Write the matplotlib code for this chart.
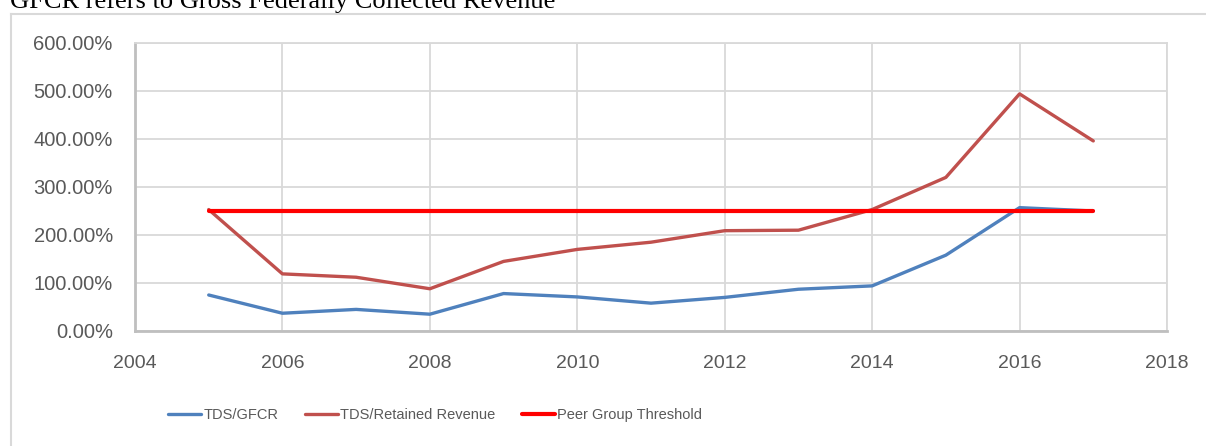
"""
Debt service ratios vs peer group threshold, 2005-2017.
"""

import matplotlib
matplotlib.use("Agg")
import matplotlib.pyplot as plt
from matplotlib.lines import Line2D
from matplotlib.ticker import FuncFormatter


years = [2005, 2006, 2007, 2008, 2009, 2010, 2011, 2012, 2013, 2014, 2015, 2016, 2017]
tds_gfcr = [75, 37, 45, 35, 78, 71, 58, 70, 87, 94, 158, 257, 250]
tds_retained = [253, 119, 112, 88, 145, 170, 185, 209, 210, 253, 320, 494, 396]
threshold = [250] * len(years)

x_ticks = [2004, 2006, 2008, 2010, 2012, 2014, 2016, 2018]
y_ticks = [0, 100, 200, 300, 400, 500, 600]

BLUE = "#4f81bd"
BROWN = "#c0504d"
RED = "#ff0000"
GRID = "#d9d9d9"
AXIS = "#bfbfbf"
TEXT = "#595959"

plt.rcParams["font.family"] = ["Liberation Sans", "DejaVu Sans"]

fig = plt.figure(figsize=(12.06, 4.46), dpi=100)
W, H = 1206, 446

# note text cut off at the top of the picture
fig.text(10 / W, 1 - 8 / H, "GFCR refers to Gross Federally Collected Revenue",
         family=["Liberation Serif", "DejaVu Serif"], fontsize=19, color="black",
         ha="left", va="baseline")

# outer chart border
fig.add_artist(Line2D([11 / W, 1.0], [1 - 14 / H, 1 - 14 / H], color=GRID, lw=1.5,
                      transform=fig.transFigure))
fig.add_artist(Line2D([11 / W, 11 / W], [0.0, 1 - 14 / H], color=GRID, lw=1.5,
                      transform=fig.transFigure))

ax = fig.add_axes([135 / W, 1 - 331 / H, (1167 - 135) / W, (331 - 43) / H])

ax.plot(years, tds_gfcr, color=BLUE, lw=2.4, label="TDS/GFCR", solid_capstyle="round", zorder=3)
ax.plot(years, tds_retained, color=BROWN, lw=2.4, label="TDS/Retained Revenue",
        solid_capstyle="round", zorder=3)
ax.plot(years, threshold, color=RED, lw=3.0, label="Peer Group Threshold",
        solid_capstyle="round", zorder=4)

ax.set_xlim(2004, 2018)
ax.set_ylim(0, 600)
ax.set_xticks(x_ticks)
ax.set_yticks(y_ticks)
ax.yaxis.set_major_formatter(FuncFormatter(lambda v, _: f"{v:.2f}%"))
ax.grid(True, color=GRID, lw=1.3)
ax.set_axisbelow(True)
ax.tick_params(length=0, labelsize=14, labelcolor=TEXT)
ax.tick_params(axis="y", labelsize=14.5, pad=16)
ax.tick_params(axis="x", pad=17)

for side in ["top", "right"]:
    ax.spines[side].set_color(GRID)
    ax.spines[side].set_linewidth(1.3)
for side in ["left", "bottom"]:
    ax.spines[side].set_color(AXIS)
    ax.spines[side].set_linewidth(2.0)

leg = fig.legend(loc="center", bbox_to_anchor=(435 / W, 1 - 415 / H), ncol=3,
                 frameon=False, handlelength=2.3, handletextpad=0.15, columnspacing=1.8,
                 prop={"size": 10.5})
for t in leg.get_texts():
    t.set_color(TEXT)

fig.savefig("out.png", dpi=100)
